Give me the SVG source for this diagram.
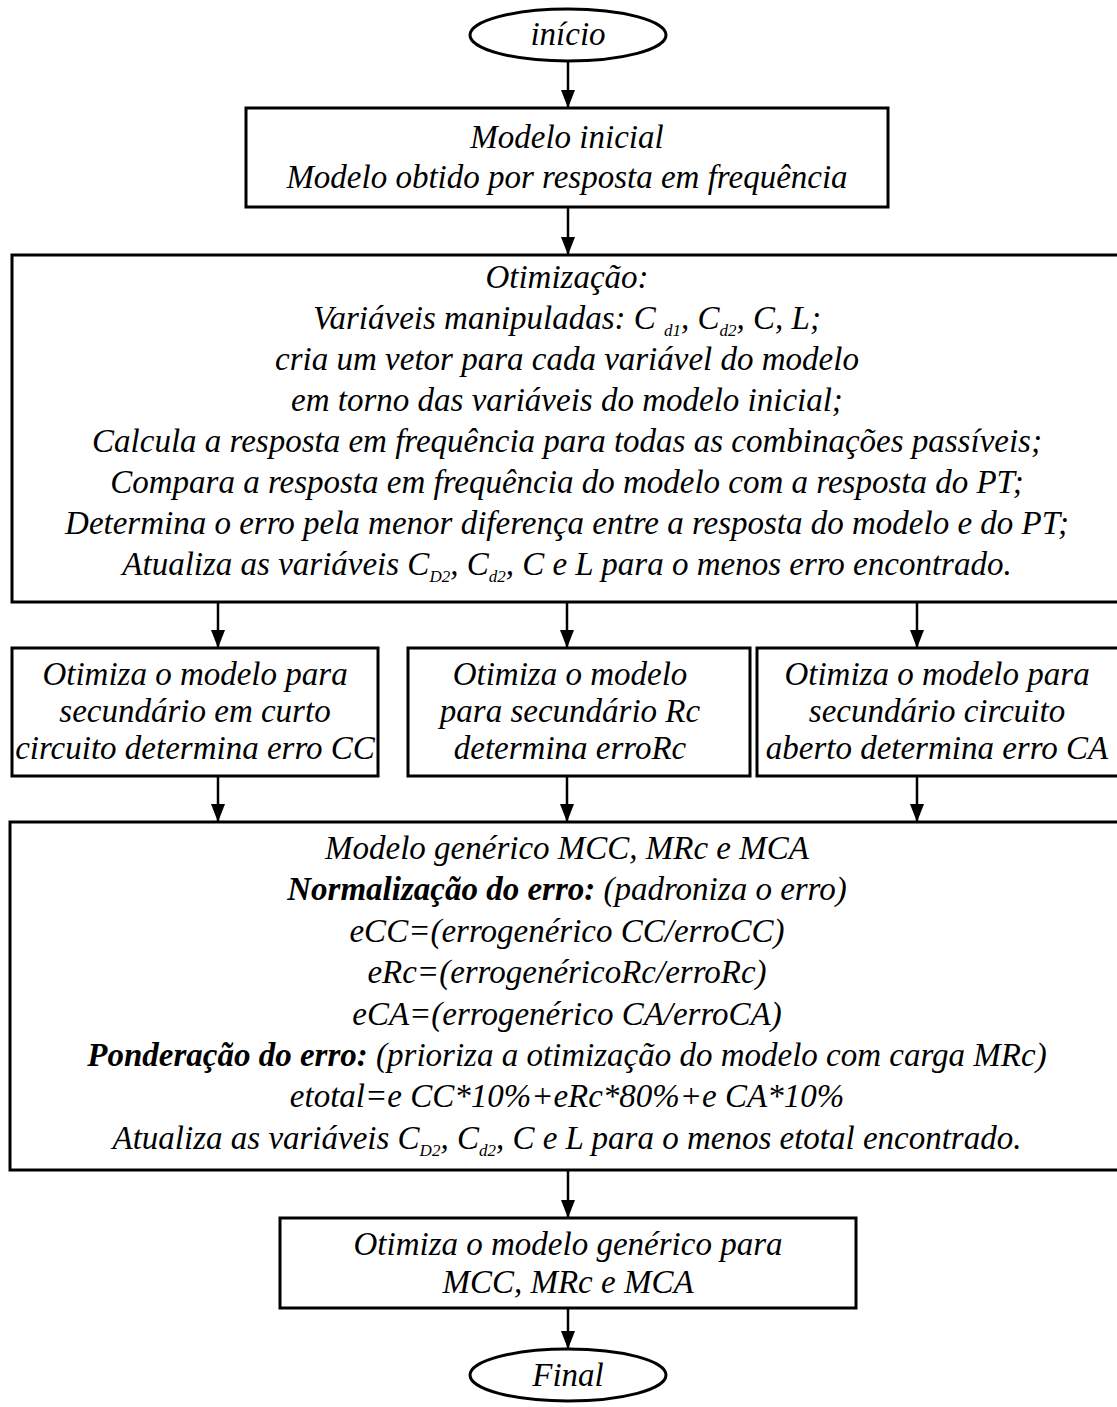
<svg xmlns="http://www.w3.org/2000/svg" width="1117" height="1407" viewBox="0 0 1117 1407">
<defs>
<marker id="ah" viewBox="0 0 18 14" refX="18" refY="7" markerWidth="18" markerHeight="14" markerUnits="userSpaceOnUse" orient="auto">
<path d="M0,0 L18,7 L0,14 z" fill="#000"/>
</marker>
</defs>
<style>
.box{fill:#fff;stroke:#000;stroke-width:3}
.t{font-family:"Liberation Serif","Times New Roman",serif;font-style:italic;font-size:33px;fill:#000;text-anchor:middle}
.b{font-weight:bold}
.s{font-size:17px}
.c{stroke:#000;stroke-width:2.5;fill:none;marker-end:url(#ah)}
</style>
<rect width="1117" height="1407" fill="#fff"/>
<g id="connectors">
<line class="c" x1="568" y1="61" x2="568" y2="108"/>
<line class="c" x1="568" y1="207" x2="568" y2="255"/>
<line class="c" x1="218" y1="602" x2="218" y2="648"/>
<line class="c" x1="567" y1="602" x2="567" y2="648"/>
<line class="c" x1="917" y1="602" x2="917" y2="648"/>
<line class="c" x1="218" y1="776" x2="218" y2="822"/>
<line class="c" x1="567" y1="776" x2="567" y2="822"/>
<line class="c" x1="917" y1="776" x2="917" y2="822"/>
<line class="c" x1="568" y1="1170" x2="568" y2="1218"/>
<line class="c" x1="568" y1="1308" x2="568" y2="1349"/>
</g>
<g id="inicio">
<ellipse class="box" cx="568" cy="35" rx="98" ry="26"/>
<text class="t" x="568" y="45">início</text>
</g>
<g id="modelo-inicial">
<rect class="box" x="246" y="108" width="642" height="99"/>
<text class="t" x="567" y="148">Modelo inicial</text>
<text class="t" x="567" y="188">Modelo obtido por resposta em frequência</text>
</g>
<g id="otimizacao">
<rect class="box" x="12" y="255" width="1120" height="347"/>
<text class="t" x="567" y="288">Otimização:</text>
<text class="t" x="567" y="329">Variáveis manipuladas: C <tspan class="s" dy="7">d1</tspan><tspan dy="-7">, C</tspan><tspan class="s" dy="7">d2</tspan><tspan dy="-7">, C, L;</tspan></text>
<text class="t" x="567" y="370">cria um vetor para cada variável do modelo</text>
<text class="t" x="567" y="411">em torno das variáveis do modelo inicial;</text>
<text class="t" x="567" y="452">Calcula a resposta em frequência para todas as combinações passíveis;</text>
<text class="t" x="567" y="493">Compara a resposta em frequência do modelo com a resposta do PT;</text>
<text class="t" x="567" y="534">Determina o erro pela menor diferença entre a resposta do modelo e do PT;</text>
<text class="t" x="567" y="575">Atualiza as variáveis C<tspan class="s" dy="7">D2</tspan><tspan dy="-7">, C</tspan><tspan class="s" dy="7">d2</tspan><tspan dy="-7">, C e L para o menos erro encontrado.</tspan></text>
</g>
<g id="otimiza-cc">
<rect class="box" x="12" y="648" width="366" height="128"/>
<text class="t" x="195" y="685">Otimiza o modelo para</text>
<text class="t" x="195" y="722">secundário em curto</text>
<text class="t" x="195" y="759">circuito determina erro CC</text>
</g>
<g id="otimiza-rc">
<rect class="box" x="408" y="648" width="342" height="128"/>
<text class="t" x="570" y="685">Otimiza o modelo</text>
<text class="t" x="570" y="722">para secundário Rc</text>
<text class="t" x="570" y="759">determina erroRc</text>
</g>
<g id="otimiza-ca">
<rect class="box" x="757" y="648" width="375" height="128"/>
<text class="t" x="937" y="685">Otimiza o modelo para</text>
<text class="t" x="937" y="722">secundário circuito</text>
<text class="t" x="937" y="759">aberto determina erro CA</text>
</g>
<g id="modelo-generico">
<rect class="box" x="10" y="822" width="1122" height="348"/>
<text class="t" x="567" y="859">Modelo genérico MCC, MRc e MCA</text>
<text class="t" x="567" y="900"><tspan class="b">Normalização do erro:</tspan> (padroniza o erro)</text>
<text class="t" x="567" y="942">eCC=(errogenérico CC/erroCC)</text>
<text class="t" x="567" y="983">eRc=(errogenéricoRc/erroRc)</text>
<text class="t" x="567" y="1025">eCA=(errogenérico CA/erroCA)</text>
<text class="t" x="567" y="1066"><tspan class="b">Ponderação do erro:</tspan> (prioriza a otimização do modelo com carga MRc)</text>
<text class="t" x="567" y="1107">etotal=e CC*10%+eRc*80%+e CA*10%</text>
<text class="t" x="567" y="1149">Atualiza as variáveis C<tspan class="s" dy="7">D2</tspan><tspan dy="-7">, C</tspan><tspan class="s" dy="7">d2</tspan><tspan dy="-7">, C e L para o menos etotal encontrado.</tspan></text>
</g>
<g id="otimiza-generico">
<rect class="box" x="280" y="1218" width="576" height="90"/>
<text class="t" x="568" y="1255">Otimiza o modelo genérico para</text>
<text class="t" x="568" y="1293">MCC, MRc e MCA</text>
</g>
<g id="final">
<ellipse class="box" cx="568" cy="1375" rx="98" ry="26"/>
<text class="t" x="568" y="1386">Final</text>
</g>
</svg>
